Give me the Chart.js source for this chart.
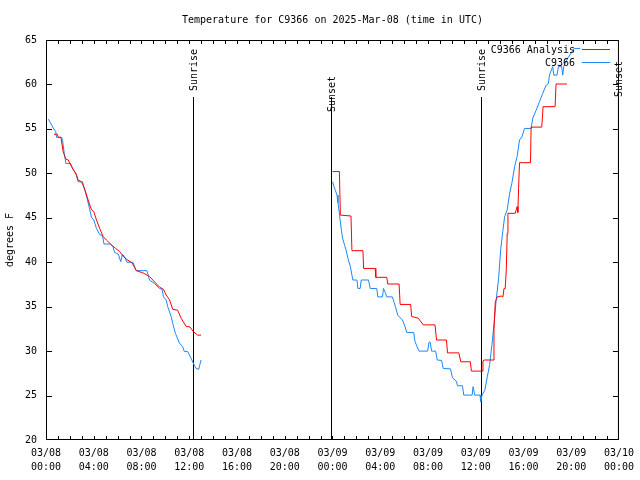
<!DOCTYPE html>
<html><head><meta charset="utf-8">
<script src="https://cdn.jsdelivr.net/npm/chart.js@4/dist/chart.umd.min.js"></script>
<style>html,body{margin:0;padding:0;background:#fff;}canvas{display:block;}</style>
</head><body>
<canvas id="c" width="640" height="480"></canvas>
<script>
// ---- data ----
const chartTitle = 'Temperature for C9366 on 2025-Mar-08 (time in UTC)';
const yAxisTitle = 'degrees F';
const xTickLabels = [['03/08','00:00'],['03/08','04:00'],['03/08','08:00'],['03/08','12:00'],['03/08','16:00'],['03/08','20:00'],
  ['03/09','00:00'],['03/09','04:00'],['03/09','08:00'],['03/09','12:00'],['03/09','16:00'],['03/09','20:00'],['03/10','00:00']];
const seriesNames = ['C9366 Analysis', 'C9366'];
// hours since 03/08 00:00 UTC; null temperature = gap in data
const analysisHours = [0.67,0.94,1.03,1.25,1.44,1.67,1.86,2.14,2.56,2.69,2.98,3.25,3.53,3.81,4.0,4.23,4.5,4.78,5.06,5.40,
  5.84,6.17,6.51,6.78,7.23,7.56,8.12,8.67,8.95,9.51,9.84,10.07,10.34,10.62,11.03,11.32,11.73,12.07,12.34,12.70,12.99,
  18,
  24.0,24.58,24.66,25.55,25.63,26.55,26.61,27.58,27.63,28.55,28.63,29.58,29.67,30.55,30.63,31.19,31.61,32.59,32.72,33.55,
  33.64,34.59,34.75,35.55,35.64,36.53,36.61,36.70,37.45,37.53,37.64,37.81,38.14,38.28,38.37,38.47,38.56,38.64,38.70,39.31,
  39.47,39.53,39.59,39.67,40.59,40.64,41.53,41.59,41.64,42.65,42.73,43.64];
const analysisTemps = [54.4,54.4,54.05,54.05,52.4,51.6,51.5,50.75,49.8,49.25,49.05,48.2,47,45.9,45.7,44.75,43.8,42.9,42.5,42.05,
  41.55,41.2,40.6,40.3,39.9,39.05,38.8,38.4,38,37.2,36.95,36.3,35.8,34.7,34.6,33.7,32.8,32.7,32.2,31.8,31.8,
  null,
  50.2,50.2,45.3,45.2,41.3,41.3,39.3,39.3,38.3,38.3,37.55,37.55,35.25,35.25,33.9,33.7,32.95,32.95,31.25,31.25,
  29.8,29.8,28.8,28.8,27.75,27.75,28.9,29,29,32.4,35.55,36.1,36.2,36.1,37.05,37.05,39.1,43.25,45.5,45.5,
  46.25,45.6,48.3,51.2,51.2,55.2,55.2,56.3,57.5,57.5,60.05,60.05];
const obsHours = [0.2,0.61,0.81,0.89,1.31,1.39,1.53,1.67,2.06,2.28,2.50,2.69,3.06,3.25,3.44,3.67,3.81,4.0,4.23,4.50,
  4.73,4.86,5.40,5.61,5.75,6.06,6.26,6.40,6.59,6.78,7.28,7.56,8.45,8.67,9.09,9.51,9.73,9.84,10.07,10.20,
  10.48,10.62,10.84,11.18,11.45,11.59,11.87,12.15,12.43,12.57,12.79,12.99,
  18,
  24.02,24.10,24.25,24.38,24.46,24.58,24.66,24.75,24.85,25.02,25.13,25.30,25.50,25.63,25.71,26.05,26.13,26.32,26.41,27.02,
  27.16,27.71,27.80,28.19,28.27,28.42,28.55,29.02,29.25,29.47,29.86,30.03,30.22,30.80,30.92,31.25,31.97,32.09,32.19,32.30,
  32.64,32.78,33.14,33.28,33.89,34.05,34.39,34.47,34.89,35.00,35.70,35.78,35.92,36.36,36.42,36.53,36.76,36.97,37.17,37.36,
  37.53,37.72,37.92,38.09,38.28,38.42,38.64,38.84,39.03,39.26,39.47,39.67,39.87,40.09,40.64,40.78,41.06,41.34,41.62,41.89,
  42.09,42.18,42.45,42.54,42.81,42.93,43.20,43.29,43.37,43.70,44.04,44.26,44.76];
const obsTemps = [56.1,55.1,54.7,54.05,54.05,53.7,52.25,51.1,51.1,50.4,50,49.05,49.05,48.1,47.2,45.9,45.05,44.75,43.8,43.1,
  43,42.05,42.05,41.75,41.1,40.9,40.05,40.9,40.6,40,40,39.05,39.05,38,37.6,37.05,36.95,36.1,35.75,35,
  33.9,33.1,32,30.9,30.5,29.95,29.95,29.2,28.4,28.05,27.95,29,
  null,
  49.05,48.6,48.05,47.55,46.7,45.5,44.55,43.6,42.7,41.9,41.4,40.4,39.5,38.55,38,38,37.05,37.05,38,38,
  37.05,37.05,36.1,36.1,37.05,36.6,36.1,36.1,35.1,34.05,33.5,32.95,32.1,32.1,31.05,30,30,31,31,30,
  30,29,28.95,28.05,28,27,26.6,26.1,26.1,25.05,25.05,26,25.05,25.05,24.3,25.05,25.6,27.1,28.5,30.7,
  33,35.8,38.2,41.4,43.6,45.1,45.9,47.75,48.9,50.75,51.9,53.75,54.1,55.05,55.05,56.2,57.1,58.05,59,59.9,
  60.1,61.05,62,61.05,61.05,62,62,61.05,62,62.95,63.6,64.05,64.05];
const sunLabels = ['Sunrise','Sunset','Sunrise','Sunset'];
const sunHours = [12.43, 23.94, 36.49, 47.97];

// ---- styles ----
const FAMILY = '"DejaVu Sans Mono", monospace';
const FSIZE = 10;
const FONT = FSIZE + 'px ' + FAMILY;
const COLORS = ['#ff0000', '#1a88f8'];
const SUN_LABEL_BASE = [91, 112, 91, 97];   // pixel where each rotated label starts

const zip = (hs, ts) => hs.map((h, i) => ({x: h, y: ts[i]}));

const gnuFrame = {
  id: 'gnuFrame',
  beforeDatasetsDraw(chart) {
    const {ctx, chartArea: a, scales: {x}} = chart;
    ctx.save();
    ctx.strokeStyle = '#000'; ctx.fillStyle = '#000'; ctx.lineWidth = 1; ctx.font = FONT;
    sunHours.forEach((h, i) => {
      const px = Math.round(x.getPixelForValue(h)) - 0.5;
      ctx.beginPath(); ctx.moveTo(px, 97); ctx.lineTo(px, a.bottom); ctx.stroke();
      ctx.save();
      ctx.translate(px + 0.5, SUN_LABEL_BASE[i]); ctx.rotate(-Math.PI / 2);
      ctx.textAlign = 'left'; ctx.textBaseline = 'middle';
      ctx.fillText(sunLabels[i], 0, 0);
      ctx.restore();
    });
    ctx.restore();
  },
  afterDatasetsDraw(chart) {
    const {ctx, chartArea: a, scales: {x, y}} = chart;
    ctx.save();
    ctx.strokeStyle = '#000'; ctx.lineWidth = 1;
    ctx.strokeRect(a.left + 0.5, a.top + 0.5, a.right - a.left - 1, a.bottom - a.top - 1);
    ctx.beginPath();
    for (let h = 1; h < 48; h++) {
      const px = Math.round(x.getPixelForValue(h)) + 0.5;
      ctx.moveTo(px, a.bottom - 1); ctx.lineTo(px, a.bottom - 4);
      ctx.moveTo(px, a.top + 1); ctx.lineTo(px, a.top + 4);
    }
    for (let t = 25; t < 65; t += 5) {
      const py = Math.round(y.getPixelForValue(t)) + 0.5;
      ctx.moveTo(a.left + 1, py); ctx.lineTo(a.left + 6, py);
      ctx.moveTo(a.right - 1, py); ctx.lineTo(a.right - 6, py);
    }
    ctx.stroke();
    // legend
    ctx.font = FONT; ctx.fillStyle = '#000'; ctx.textAlign = 'right'; ctx.textBaseline = 'middle';
    chart.data.datasets.forEach((ds, i) => {
      const ly = 50 + i * 13;
      ctx.fillText(ds.label, 575, ly + 0.5);
      ctx.strokeStyle = ds.borderColor;
      ctx.beginPath(); ctx.moveTo(582, ly - 0.5); ctx.lineTo(610, ly - 0.5); ctx.stroke();
    });
    ctx.restore();
  }
};

Chart.defaults.font.family = FAMILY;
Chart.defaults.color = '#000';

new Chart(document.getElementById('c'), {
  type: 'line',
  data: {
    datasets: [
      {label: seriesNames[0], data: zip(analysisHours, analysisTemps), borderColor: COLORS[0], borderWidth: 1, pointRadius: 0, tension: 0, spanGaps: false, fill: false},
      {label: seriesNames[1], data: zip(obsHours, obsTemps), borderColor: COLORS[1], borderWidth: 1, pointRadius: 0, tension: 0, spanGaps: false, fill: false}
    ]
  },
  options: {
    responsive: false, animation: false, events: [],
    layout: {padding: {left: 0, right: 18, top: 0, bottom: 0}},
    plugins: {
      legend: {display: false}, tooltip: {enabled: false},
      title: {display: true, fullSize: false, text: chartTitle, color: '#000', font: {family: FAMILY, size: FSIZE, weight: 'normal', lineHeight: 1.2}, padding: {top: 14, bottom: 14}}
    },
    scales: {
      x: {type: 'linear', min: 0, max: 48,
          afterFit(s) { s.height = 40; },
          grid: {display: false, drawTicks: false}, border: {display: false},
          ticks: {stepSize: 4, autoSkip: false, maxRotation: 0, minRotation: 0, padding: 6, color: '#000',
                  font: {family: FAMILY, size: FSIZE, lineHeight: '14px'},
                  callback: (v, i) => xTickLabels[i]}},
      y: {min: 20, max: 65,
          afterFit(s) { s.width = 46; },
          grid: {display: false, drawTicks: false}, border: {display: false},
          ticks: {stepSize: 5, padding: 9, color: '#000', font: {family: FAMILY, size: FSIZE}},
          title: {display: true, text: yAxisTitle, color: '#000', font: {family: FAMILY, size: FSIZE}, padding: {top: 4, bottom: 0}}}
    }
  },
  plugins: [gnuFrame]
});
</script>
</body></html>
